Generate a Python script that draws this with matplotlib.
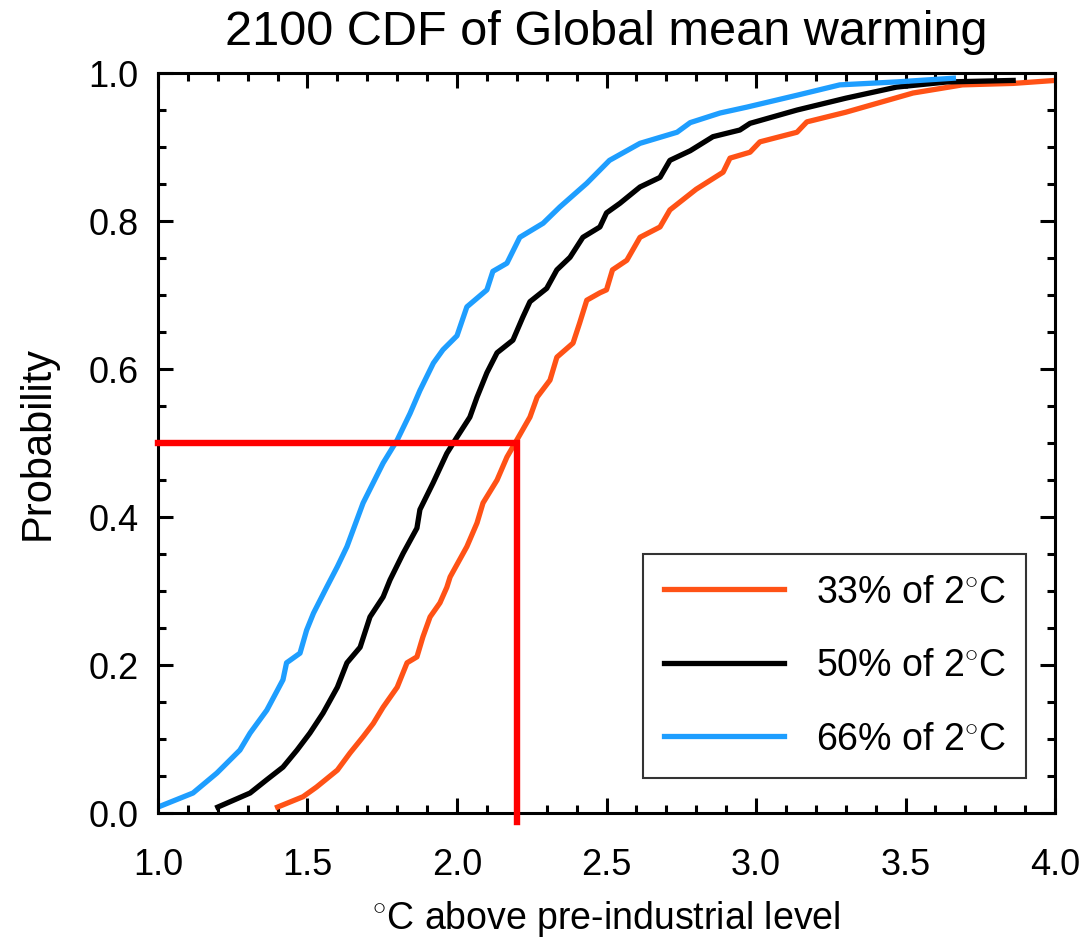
import matplotlib
matplotlib.use("Agg")
import matplotlib.pyplot as plt
from matplotlib.ticker import MultipleLocator, FormatStrFormatter

plt.rcParams['font.family'] = ['Liberation Sans', 'DejaVu Sans']

# values
x_33 = [1.40, 1.485, 1.53, 1.6, 1.642, 1.686, 1.72, 1.753, 1.8, 1.833, 1.866, 1.886,
        1.91, 1.943, 1.966, 1.977, 2.033, 2.067, 2.087, 2.134, 2.167, 2.2, 2.244,
        2.268, 2.311, 2.334, 2.388, 2.41, 2.434, 2.478, 2.5, 2.52, 2.568, 2.612,
        2.679, 2.712, 2.8, 2.89, 2.913, 2.98, 3.013, 3.137, 3.17, 3.3, 3.525, 3.69,
        3.86, 4.0]
p_33 = [0.008, 0.022, 0.035, 0.058, 0.081, 0.103, 0.121, 0.143, 0.17, 0.203, 0.211,
        0.238, 0.265, 0.284, 0.305, 0.319, 0.36, 0.392, 0.419, 0.45, 0.481, 0.504,
        0.535, 0.562, 0.585, 0.616, 0.635, 0.662, 0.693, 0.703, 0.707, 0.734, 0.747,
        0.778, 0.792, 0.815, 0.843, 0.866, 0.885, 0.893, 0.907, 0.92, 0.934, 0.947,
        0.973, 0.984, 0.986, 0.99]

x_50 = [1.2, 1.308, 1.364, 1.418, 1.465, 1.508, 1.552, 1.6, 1.632, 1.676, 1.709,
        1.753, 1.776, 1.82, 1.866, 1.876, 1.92, 1.966, 2.0, 2.043, 2.067, 2.1, 2.134,
        2.187, 2.22, 2.244, 2.3, 2.334, 2.378, 2.421, 2.478, 2.5, 2.545, 2.612, 2.679,
        2.712, 2.78, 2.856, 2.946, 2.98, 3.137, 3.3, 3.47, 3.64, 3.86]
p_50 = [0.008, 0.027, 0.045, 0.062, 0.085, 0.108, 0.135, 0.17, 0.203, 0.224, 0.265,
        0.292, 0.315, 0.351, 0.385, 0.41, 0.446, 0.486, 0.508, 0.535, 0.562, 0.595,
        0.622, 0.639, 0.67, 0.691, 0.709, 0.734, 0.751, 0.778, 0.792, 0.811, 0.824,
        0.846, 0.859, 0.882, 0.895, 0.914, 0.923, 0.932, 0.95, 0.966, 0.981, 0.988,
        0.99]

x_66 = [1.0, 1.117, 1.197, 1.274, 1.308, 1.364, 1.418, 1.43, 1.475, 1.497, 1.52,
        1.564, 1.6, 1.632, 1.686, 1.753, 1.8, 1.843, 1.876, 1.921, 1.953, 2.0, 2.033,
        2.1, 2.12, 2.167, 2.21, 2.288, 2.344, 2.434, 2.51, 2.612, 2.736, 2.78, 2.88,
        2.97, 3.137, 3.28, 3.47, 3.66]
p_66 = [0.008, 0.027, 0.054, 0.085, 0.108, 0.139, 0.18, 0.203, 0.216, 0.247, 0.27,
        0.305, 0.333, 0.36, 0.419, 0.473, 0.504, 0.54, 0.571, 0.608, 0.626, 0.645,
        0.684, 0.707, 0.732, 0.743, 0.778, 0.797, 0.819, 0.851, 0.882, 0.905, 0.92,
        0.933, 0.946, 0.954, 0.97, 0.984, 0.988, 0.993]

labels = ["33% of 2$^{\\circ}$C", "50% of 2$^{\\circ}$C", "66% of 2$^{\\circ}$C"]
colors = ["#ff5216", "black", "#1e9eff"]

# 50% point of the 33% curve
mark_x = 2.2
mark_p = 0.5

plt.rcParams['mathtext.fontset'] = 'custom'
plt.rcParams['mathtext.rm'] = 'Liberation Sans'

fig = plt.figure(figsize=(10.88, 9.4), dpi=100)
ax = fig.add_axes([0.1452, 0.1351, 0.8245, 0.7872])

for xs, ps, lab, col in zip([x_33, x_50, x_66], [p_33, p_50, p_66], labels, colors):
    ax.plot(xs, ps, color=col, lw=3.8, label=lab)

ax.plot([1.0, mark_x, mark_x], [mark_p, mark_p, -0.012], color="red", lw=4.6,
        clip_on=False, solid_joinstyle="miter", zorder=5)

ax.set_xlim(1.0, 4.0)
ax.set_ylim(0.0, 1.0)
ax.xaxis.set_major_locator(MultipleLocator(0.5))
ax.xaxis.set_minor_locator(MultipleLocator(0.1))
ax.yaxis.set_major_locator(MultipleLocator(0.2))
ax.yaxis.set_minor_locator(MultipleLocator(0.05))
ax.xaxis.set_major_formatter(FormatStrFormatter("%.1f"))
ax.yaxis.set_major_formatter(FormatStrFormatter("%.1f"))
ax.tick_params(which="both", direction="in", top=True, right=True, width=2.2,
               labelsize=26)
ax.tick_params(which="major", length=11, pad=14)
ax.tick_params(axis="x", which="major", pad=25)
ax.tick_params(which="minor", length=6)
for s in ax.spines.values():
    s.set_linewidth(2.2)

ax.set_title("2100 CDF of Global mean warming", fontsize=35, pad=20)
ax.set_xlabel("$^{\\circ}$C above pre-industrial level", fontsize=27, labelpad=12)
ax.set_ylabel("Probability", fontsize=30, labelpad=22)

leg = ax.legend(loc="lower right", bbox_to_anchor=(0.968, 0.047), fontsize=27,
                frameon=True, fancybox=False, handlelength=3.2, handletextpad=0.85,
                labelspacing=1.0, borderpad=0.55, borderaxespad=0)
leg.get_frame().set_edgecolor("black")
leg.get_frame().set_linewidth(1.5)

fig.savefig("out.png", dpi=100)
